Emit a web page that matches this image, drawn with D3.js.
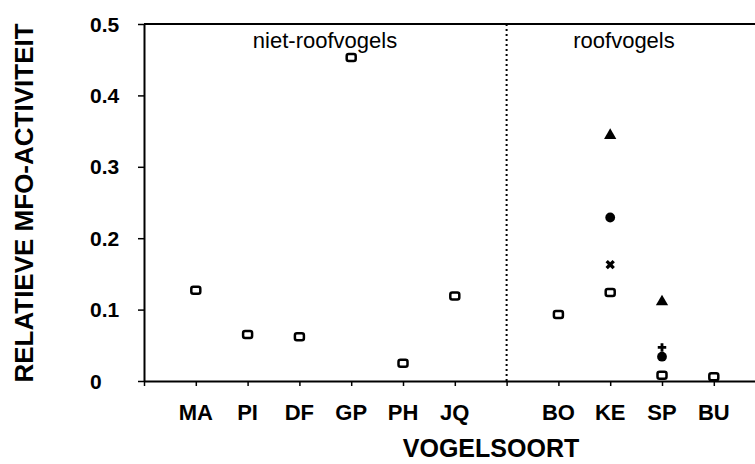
<!DOCTYPE html>
<html>
<head>
<meta charset="utf-8">
<script src="https://cdn.jsdelivr.net/npm/d3@7"></script>
<style>
  body { margin: 0; background: #fff; }
  text { font-family: "Liberation Sans", Arial, sans-serif; fill: #000; }
</style>
</head>
<body>
<svg id="chart"></svg>
<script>
// species on the x axis, left group = niet-roofvogels, right group = roofvogels
const species = ["MA", "PI", "DF", "GP", "PH", "JQ", "BO", "KE", "SP", "BU"];
const groupSplit = 6; // first 6 are niet-roofvogels

// open squares, one per species
const squareValues = [0.127, 0.065, 0.062, 0.453, 0.025, 0.119, 0.093, 0.124, 0.008, 0.006];
// extra measurements (filled symbols)
const triangleSpecies = ["KE", "SP"];
const triangleValues = [0.344, 0.111];
const circleSpecies = ["KE", "SP"];
const circleValues = [0.229, 0.034];
const timesSpecies = ["KE"];
const timesValues = [0.163];
const plusSpecies = ["SP"];
const plusValues = [0.047];

const yTicks = [0, 0.1, 0.2, 0.3, 0.4, 0.5];
const yTickLabels = ["0", "0.1", "0.2", "0.3", "0.4", "0.5"];

const width = 755, height = 464;
const svg = d3.select("#chart").attr("width", width).attr("height", height);

// slot 0 is the axis origin, species are placed one slot apart with an empty slot between groups
const slot = name => {
  const i = species.indexOf(name);
  return i < groupSplit ? i + 1 : i + 2;
};
const dividerSlot = groupSplit + 1;

const x = d3.scaleLinear().domain([0, 14]).range([144, 144 + 14 * 51.8]);
const y = d3.scaleLinear().domain([0, 0.5]).range([381, 24]);

// top frame line
svg.append("line")
  .attr("x1", x(0)).attr("x2", width)
  .attr("y1", y(0.5)).attr("y2", y(0.5))
  .attr("stroke", "#000").attr("stroke-width", 2);

// x axis
const xAxis = svg.append("g")
  .attr("transform", `translate(0,${y(0)})`)
  .call(d3.axisBottom(x)
    .tickValues(d3.range(0, 14))
    .tickSize(5)
    .tickSizeOuter(0)
    .tickFormat(() => ""));
xAxis.select(".domain").attr("stroke-width", 2);
xAxis.selectAll(".tick line").attr("stroke-width", 1.5);

svg.append("g")
  .selectAll("text")
  .data(species)
  .join("text")
  .attr("x", d => x(slot(d)))
  .attr("y", 420)
  .attr("text-anchor", "middle")
  .attr("font-size", 22)
  .attr("font-weight", "bold")
  .text(d => d);

// y axis
const yAxis = svg.append("g")
  .attr("transform", `translate(${x(0)},0)`)
  .call(d3.axisLeft(y)
    .tickValues(yTicks)
    .tickSize(6)
    .tickSizeOuter(0)
    .tickFormat(() => ""));
yAxis.select(".domain").attr("stroke-width", 2);
yAxis.selectAll(".tick line").attr("stroke-width", 1.5);

svg.append("g")
  .selectAll("text")
  .data(yTicks)
  .join("text")
  .attr("x", 90)
  .attr("y", d => y(d))
  .attr("dy", "0.36em")
  .attr("font-size", 21)
  .attr("font-weight", "bold")
  .text((d, i) => yTickLabels[i]);

// divider between the two groups
svg.append("line")
  .attr("x1", x(dividerSlot)).attr("x2", x(dividerSlot))
  .attr("y1", y(0.5)).attr("y2", y(0))
  .attr("stroke", "#000").attr("stroke-width", 2)
  .attr("stroke-dasharray", "2,3");

// group labels
svg.append("text")
  .attr("x", 325).attr("y", 48)
  .attr("text-anchor", "middle")
  .attr("font-size", 22)
  .text("niet-roofvogels");
svg.append("text")
  .attr("x", 624).attr("y", 48)
  .attr("text-anchor", "middle")
  .attr("font-size", 22)
  .text("roofvogels");

// axis titles
svg.append("text")
  .attr("x", 491).attr("y", 457)
  .attr("text-anchor", "middle")
  .attr("font-size", 25)
  .attr("font-weight", "bold")
  .text("VOGELSOORT");
svg.append("text")
  .attr("transform", "translate(33,203) rotate(-90)")
  .attr("text-anchor", "middle")
  .attr("font-size", 26)
  .attr("font-weight", "bold")
  .text("RELATIEVE MFO-ACTIVITEIT");

// markers
const marks = svg.append("g");

marks.selectAll("rect")
  .data(squareValues)
  .join("rect")
  .attr("x", (d, i) => x(slot(species[i])) - 4.5)
  .attr("y", d => y(d) - 3.5)
  .attr("width", 9).attr("height", 7)
  .attr("rx", 2)
  .attr("fill", "#fff")
  .attr("stroke", "#000")
  .attr("stroke-width", 2.5);

function symbols(names, values, type, size, rotate) {
  marks.append("g")
    .selectAll("path")
    .data(values)
    .join("path")
    .attr("transform", (d, i) => `translate(${x(slot(names[i]))},${y(d)}) rotate(${rotate})`)
    .attr("d", d3.symbol().type(type).size(size))
    .attr("fill", "#000");
}

symbols(triangleSpecies, triangleValues, d3.symbolTriangle, 65, 0);
symbols(circleSpecies, circleValues, d3.symbolCircle, 75, 0);
symbols(timesSpecies, timesValues, d3.symbolCross, 55, 45);
symbols(plusSpecies, plusValues, d3.symbolCross, 40, 0);
</script>
</body>
</html>
